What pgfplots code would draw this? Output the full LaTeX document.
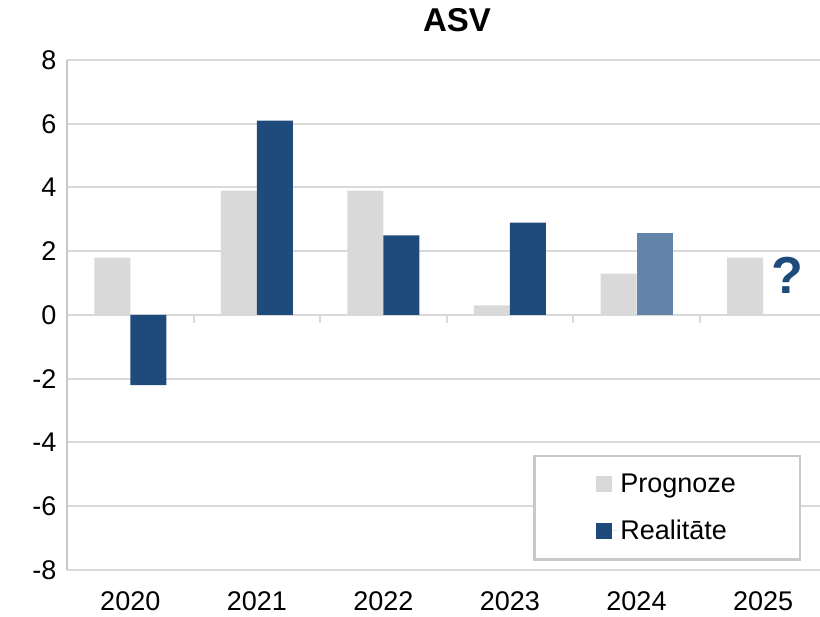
\documentclass[border=0pt]{standalone}
\usepackage{pgfplots}
\pgfplotsset{compat=1.18}
\usepackage{fontspec}
\setmainfont{Liberation Sans}
\definecolor{pgray}{HTML}{D9D9D9}
\definecolor{rblue}{HTML}{1F4A7C}
\definecolor{rblue2}{HTML}{6383A8}
\definecolor{gridc}{HTML}{D9D9D9}
\definecolor{axl}{HTML}{C8C8C8}
\begin{document}
\begin{tikzpicture}
\begin{axis}[
 at={(0,0)}, anchor=south west,
 scale only axis, width=753pt, height=510pt,
 xmin=-0.5, xmax=5.45, ymin=-8, ymax=8,
 ytick={-8,-6,...,8},
 xtick={0,1,2,3,4,5}, xticklabels={2020,2021,2022,2023,2024,2025},
 font=\fontsize{27}{32}\selectfont,
 /pgf/number format/assume math mode=true,
 axis lines*=left,
 x axis line style={draw=none},
 y axis line style={-, draw=axl, line width=2pt},
 ymajorgrids, grid style={draw=gridc, line width=2pt},
 major tick length=0pt,
 xticklabel style={anchor=base, yshift=-41pt},
 yticklabel style={xshift=-7pt},
 title={ASV},
 title style={at={(0.518,1)}, anchor=base, yshift=22pt, font=\fontsize{33}{38}\selectfont\bfseries},
 ybar, bar width=36pt,
 legend image code/.code={\draw[#1,/tikz/.cd,draw=none] (0pt,-8pt) rectangle (16pt,8pt);\path (0pt,0pt) -- (22pt,0pt);},
 legend cell align=left,
 legend style={at={(0.619,0.2255)}, anchor=north west, draw=axl, line width=2.5pt,
   inner xsep=62pt, inner ysep=16pt, row sep=22pt, font=\fontsize{27}{32}\selectfont},
]
\addplot[bar shift=-18pt, fill=pgray, draw=none] coordinates {(0,1.8) (1,3.9) (2,3.9) (3,0.3) (4,1.3) (5,1.8)};
\addplot[bar shift=18pt, fill=rblue, draw=none] coordinates {(0,-2.2) (1,6.1) (2,2.5) (3,2.9)};
\addplot[bar shift=18pt, fill=rblue2, draw=none, forget plot] coordinates {(4,2.57)};
\legend{Prognoze, Realitāte}
\draw[gridc, line width=2pt] (axis cs:0.5,0) -- ++(0pt,-8pt);
\draw[gridc, line width=2pt] (axis cs:1.5,0) -- ++(0pt,-8pt);
\draw[gridc, line width=2pt] (axis cs:2.5,0) -- ++(0pt,-8pt);
\draw[gridc, line width=2pt] (axis cs:3.5,0) -- ++(0pt,-8pt);
\draw[gridc, line width=2pt] (axis cs:4.5,0) -- ++(0pt,-8pt);
\node[text=rblue, font=\fontsize{52}{62}\selectfont\bfseries] at (axis cs:5.19,1.25) {?};
\end{axis}
\pgfresetboundingbox
\useasboundingbox (-67pt,-47pt) rectangle (753pt,570pt);
\end{tikzpicture}
\end{document}
